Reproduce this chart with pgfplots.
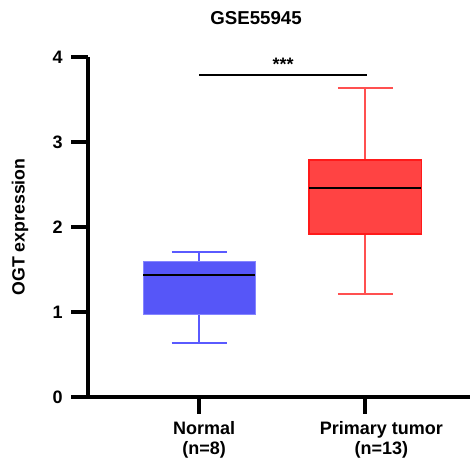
\documentclass[border=0pt]{standalone}
\usepackage{fontspec}
\setmainfont{Liberation Sans}
\usepackage{pgfplots}
\pgfplotsset{compat=1.18}
\usepgfplotslibrary{statistics}
\usetikzlibrary{calc}
\definecolor{nblue}{HTML}{5656F8}
\definecolor{nbedge}{HTML}{8585FF}
\definecolor{nwhisk}{HTML}{5A5AFF}
\definecolor{tred}{HTML}{FF4343}
\definecolor{tedge}{HTML}{FF1A1A}
\definecolor{twhisk}{HTML}{FF5050}
\begin{document}
\begin{tikzpicture}
\begin{axis}[
  name=ax,
  scale only axis, width=286.5pt, height=255pt,
  xmin=0.331, xmax=2.63, ymin=0, ymax=4,
  axis x line=bottom, axis y line=left,
  axis line style={-, line width=3.2pt, black},
  every outer x axis line/.append style={line width=3.2pt},
  every outer y axis line/.append style={line width=3.2pt},
  ytick={0,1,2,3,4}, xtick={1,2},
  xticklabels={{\kern7.5pt\begin{tabular}{@{}c@{}}Normal\\(n=8)\end{tabular}},
               {\kern24pt\begin{tabular}{@{}c@{}}Primary tumor\\(n=13)\end{tabular}}},
  xticklabel style={font=\fontsize{13.5}{15.5}\selectfont\bfseries, yshift=-1pt},
  yticklabel style={font=\fontsize{13.5}{15}\selectfont\bfseries, xshift=-3pt},
  /pgf/number format/assume math mode=true,
  tick align=outside,
  major tick length=12.5pt,
  major tick style={line width=3pt, black},
  every tick/.append style={line width=3pt},
  minor tick num=0,
  ylabel={OGT expression},
  every axis y label/.style={at={(rel axis cs:0,0.5)}, xshift=-51pt, rotate=90, anchor=center},
  ylabel style={font=\fontsize{13.3}{15}\selectfont\bfseries},
  boxplot/draw direction=y,
  clip=false,
]
\addplot[boxplot prepared={draw position=1,
   lower whisker=0.635, lower quartile=0.976, median=1.435,
   upper quartile=1.59, upper whisker=1.70,
   box extend=0.675, whisker extend=0.33,
   every box/.style={fill=nblue, draw=nbedge, line width=0.6pt},
   every whisker/.style={draw=nwhisk, line width=1.5pt},
   every median/.style={draw=black, line width=1.6pt}}]
  coordinates {};
\addplot[boxplot prepared={draw position=2,
   lower whisker=1.21, lower quartile=1.92, median=2.46,
   upper quartile=2.79, upper whisker=3.63,
   box extend=0.675, whisker extend=0.33,
   every box/.style={fill=tred, draw=tedge, line width=1.2pt},
   every whisker/.style={draw=twhisk, line width=1.5pt},
   every median/.style={draw=black, line width=1.8pt}}]
  coordinates {};
\draw[line width=1.7pt] (axis cs:1,3.79) -- (axis cs:2.01,3.79);
\node[anchor=base, font=\fontsize{13.5}{14}\selectfont\bfseries, yshift=3pt] at (axis cs:1.505,3.79) {***};
\coordinate (bl) at (rel axis cs:0,0);
\coordinate (tr) at (rel axis cs:1,1);
\coordinate (tl) at (rel axis cs:0,1);
\end{axis}
\node[anchor=base, font=\fontsize{14}{16}\selectfont\bfseries] at ($(tl)+(126pt,24.5pt)$) {GSE55945};
\pgfresetboundingbox
\useasboundingbox ($(bl)+(-66pt,-49.5pt)$) rectangle ($(tr)+(0pt,42.75pt)$);
\end{tikzpicture}
\end{document}
